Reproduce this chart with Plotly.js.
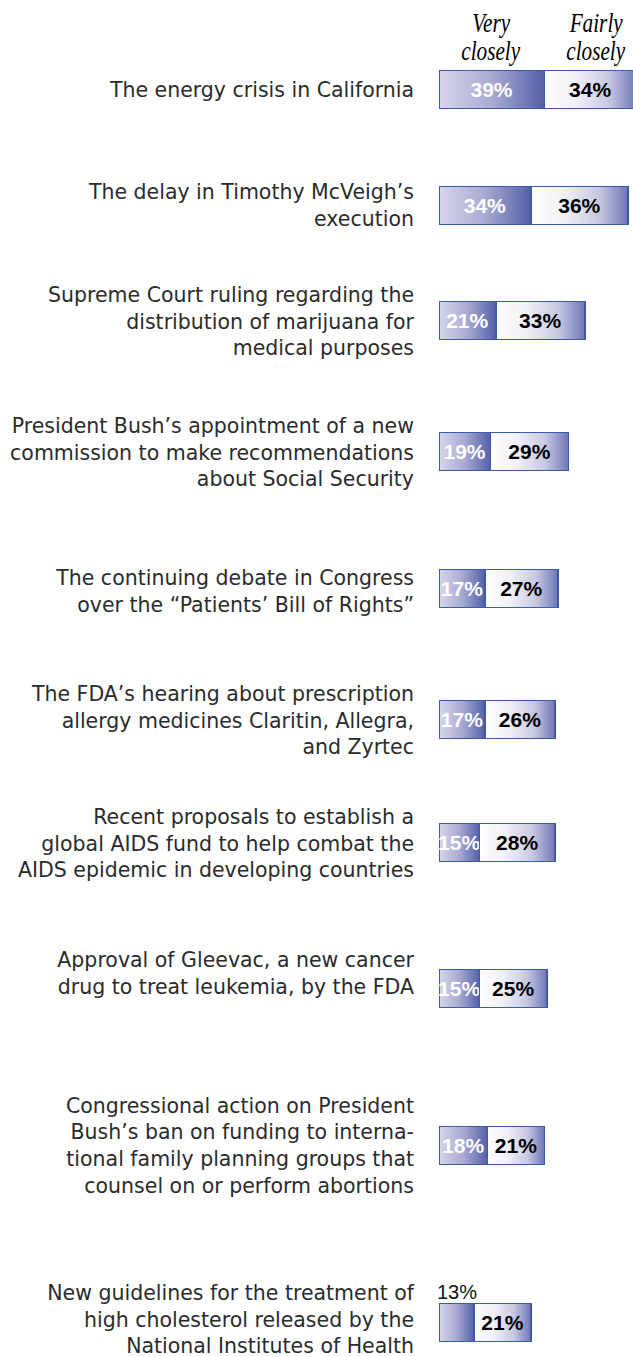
<!DOCTYPE html>
<html>
<head>
<meta charset="utf-8">
<script src="https://cdn.plot.ly/plotly-3.0.1.min.js"></script>
<style>
  html, body { margin: 0; padding: 0; background: #fff; overflow: hidden; width: 633px; height: 1357px; }
  #chart { width: 641px; height: 1357px; }
</style>
</head>
<body>
<div id="chart"></div>
<script>
// ---------- DATA ----------
const categories = [
  "The energy crisis in California",
  "The delay in Timothy McVeigh’s<br>execution",
  "Supreme Court ruling regarding the<br>distribution of marijuana for<br>medical purposes",
  "President Bush’s appointment of a new<br>commission to make recommendations<br>about Social Security",
  "The continuing debate in Congress<br>over the “Patients’ Bill of Rights”",
  "The FDA’s hearing about prescription<br>allergy medicines Claritin, Allegra,<br>and Zyrtec",
  "Recent proposals to establish a<br>global AIDS fund to help combat the<br>AIDS epidemic in developing countries",
  "Approval of Gleevac, a new cancer<br>drug to treat leukemia, by the FDA",
  "Congressional action on President<br>Bush’s ban on funding to interna-<br>tional family planning groups that<br>counsel on or perform abortions",
  "New guidelines for the treatment of<br>high cholesterol released by the<br>National Institutes of Health"
];
const seriesNames = ["Very closely", "Fairly closely"];
const veryClosely = [39, 34, 21, 19, 17, 17, 15, 15, 18, 13];
const fairlyClosely = [34, 36, 33, 29, 27, 26, 28, 25, 21, 21];

// ---------- LAYOUT GEOMETRY (pixels) ----------
const H = 1357, FULL_W = 641, PLOT_L = 439, PLOT_W = FULL_W - PLOT_L;
const PX_PER_PCT = 2.7;
const barTopPx = [70, 186, 301, 432, 569, 700, 823, 969, 1126, 1303];
const labelShiftPx = [0, 0, 1, 1, 3, 1, 1, -15, 0, -3];   // positive = down
const barHeightPx = 39;
const pxX = p => (p - PLOT_L) / PLOT_W;
const pxY = p => 1 - p / H;

const VERY_FLAT = "#8a8fc4", FAIRLY_FLAT = "#e0e0f0";
const lineStyle = { color: "#3c5cab", width: 1.6 };
const pctFont = { family: "Liberation Sans, Arial, sans-serif", size: 21, weight: "bold" };

const traces = [];
const layout = {
  width: FULL_W, height: H,
  margin: { l: PLOT_L, r: 0, t: 0, b: 0, pad: 0 },
  paper_bgcolor: "#ffffff", plot_bgcolor: "#ffffff",
  showlegend: false, barmode: "stack", bargap: 0,
  uniformtext: { mode: "show", minsize: 21 },
  xaxis: { range: [0, PLOT_W / PX_PER_PCT], visible: false, showgrid: false, zeroline: false, fixedrange: true },
  annotations: []
};

categories.forEach((cat, i) => {
  const yName = i === 0 ? "y" : "y" + (i + 1);
  const axKey = i === 0 ? "yaxis" : "yaxis" + (i + 1);
  const top = barTopPx[i], bot = top + barHeightPx;
  layout[axKey] = {
    domain: [pxY(bot), pxY(top)], anchor: "x", type: "category",
    range: [-0.5, 0.5], showgrid: false, zeroline: false, showline: false,
    ticks: "", ticklabelstandoff: 24, ticklabelshift: labelShiftPx[i], fixedrange: true,
    tickfont: { family: "DejaVu Sans, sans-serif", size: 20.5, color: "#2b2b2b" }
  };
  const vInside = veryClosely[i] >= 14;
  traces.push({
    type: "bar", orientation: "h", name: seriesNames[0],
    x: [veryClosely[i]], y: [cat], xaxis: "x", yaxis: yName, width: 1,
    marker: { color: VERY_FLAT, line: lineStyle },
    text: [vInside ? veryClosely[i] + "%" : ""],
    textposition: "inside", insidetextanchor: "middle", textangle: 0,
    insidetextfont: Object.assign({ color: "#ffffff" }, pctFont),
    cliponaxis: false, hoverinfo: "skip"
  });
  traces.push({
    type: "bar", orientation: "h", name: seriesNames[1],
    x: [fairlyClosely[i]], y: [cat], xaxis: "x", yaxis: yName, width: 1,
    marker: { color: FAIRLY_FLAT, line: lineStyle },
    text: [fairlyClosely[i] + "%"],
    textposition: "inside", insidetextanchor: "middle", textangle: 0,
    insidetextfont: Object.assign({ color: "#000000" }, pctFont),
    cliponaxis: false, hoverinfo: "skip"
  });
  if (!vInside) {
    layout.annotations.push({
      xref: "x", yref: yName, x: veryClosely[i] / 2, y: cat,
      text: veryClosely[i] + "%", showarrow: false,
      xanchor: "center", yanchor: "bottom", yshift: 18,
      font: { family: "Liberation Sans, Arial, sans-serif", size: 20, color: "#111111" }
    });
  }
});

// Column headers (series names), two lines each
const headerCenters = [491, 596];
const headerLineY = [22, 50];
seriesNames.forEach((nm, k) => {
  const words = nm.split(" ");
  [words[0], words.slice(1).join(" ")].forEach((w, j) => {
    layout.annotations.push({
      xref: "paper", yref: "paper", x: pxX(headerCenters[k]), y: pxY(headerLineY[j]),
      text: w, showarrow: false, xanchor: "center", yanchor: "middle",
      font: { family: "Liberation Serif, Times New Roman, serif", size: 25, style: "italic", color: "#000" }
    });
  });
});

Plotly.newPlot("chart", traces, layout, { staticPlot: true, displayModeBar: false }).then(() => {
  const svg = document.querySelector("#chart .main-svg");
  const NS = "http://www.w3.org/2000/svg";
  const defs = document.createElementNS(NS, "defs");
  function grad(id, stops) {
    const g = document.createElementNS(NS, "linearGradient");
    g.setAttribute("id", id);
    g.setAttribute("x1", "0"); g.setAttribute("y1", "0");
    g.setAttribute("x2", "1"); g.setAttribute("y2", "0");
    stops.forEach(([o, c]) => {
      const s = document.createElementNS(NS, "stop");
      s.setAttribute("offset", o); s.setAttribute("stop-color", c);
      g.appendChild(s);
    });
    defs.appendChild(g);
  }
  grad("gradVery", [["0", "#d8d6ea"], ["0.5", "#a9aad3"], ["1", "#5460a8"]]);
  grad("gradFairly", [["0", "#ffffff"], ["0.35", "#f0f0f7"], ["0.7", "#c8c8e2"], ["1", "#6f76b7"]]);
  svg.insertBefore(defs, svg.firstChild);
  document.querySelectorAll("#chart .barlayer .point path").forEach(p => {
    const f = p.style.fill.replace(/\s/g, "");
    if (f === "rgb(138,143,196)") p.style.fill = "url(#gradVery)";
    else if (f === "rgb(224,224,240)") p.style.fill = "url(#gradFairly)";
  });
  document.querySelectorAll("#chart .annotation-text").forEach(t => {
    if ((t.style.fontFamily || "").indexOf("Serif") >= 0) {
      t.style.transformBox = "fill-box";
      t.style.transformOrigin = "center";
      t.style.transform = "scale(0.85, 1.08)";
    }
  });
});
</script>
</body>
</html>
